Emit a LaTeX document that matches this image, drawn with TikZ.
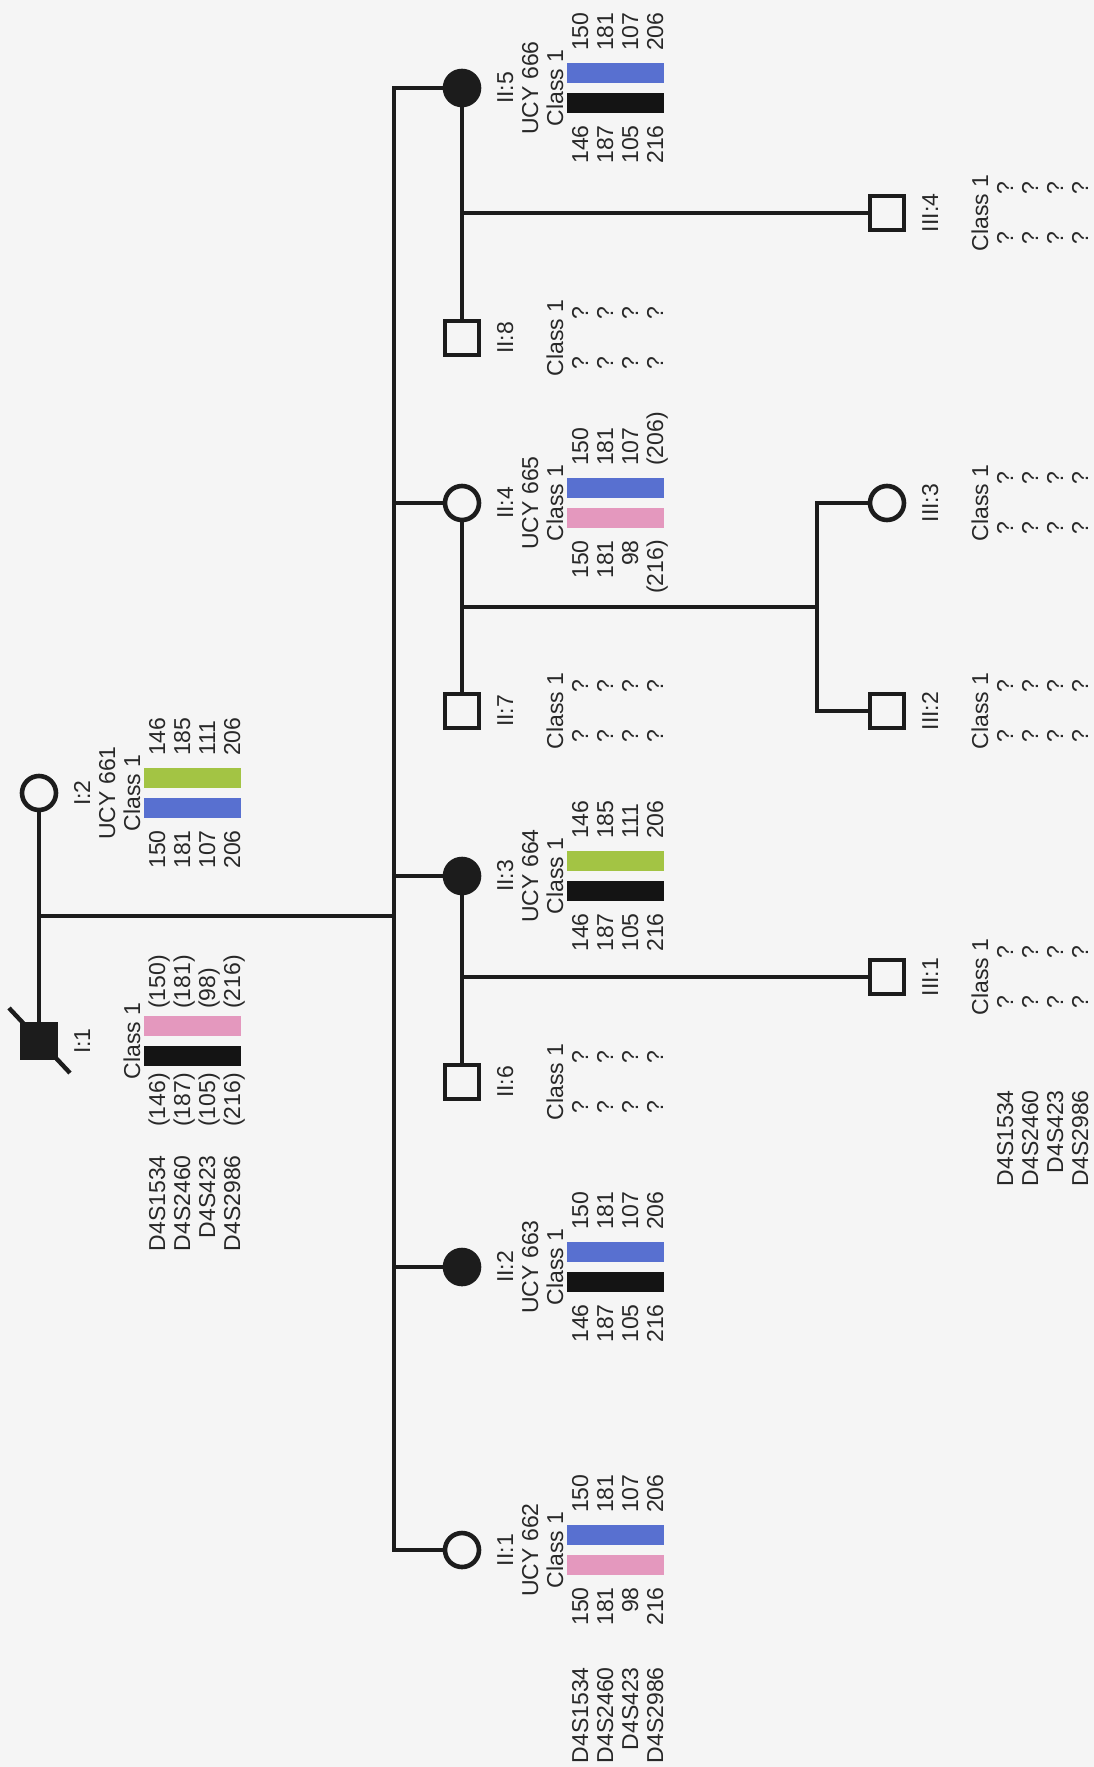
\documentclass[tikz,border=0pt]{standalone}
\usepackage{fontspec}
\setmainfont{Liberation Sans}
\definecolor{bg}{RGB}{245,245,245}
\definecolor{ink}{RGB}{28,28,28}
\definecolor{txtink}{RGB}{40,40,40}
\definecolor{hapblue}{RGB}{88,112,208}
\definecolor{happink}{RGB}{228,152,190}
\definecolor{hapgreen}{RGB}{163,196,68}
\definecolor{hapblack}{RGB}{20,20,20}
\tikzset{
  conn/.style={draw=ink, line width=3.2pt},
  sym/.style={draw=ink, line width=4.6pt, minimum size=34pt, inner sep=0pt},
  femsym/.style={sym, circle, fill=bg},
  affem/.style={sym, circle, fill=ink},
  malsym/.style={sym, rectangle, fill=bg},
  afmal/.style={sym, rectangle, fill=ink},
  txt/.style={rotate=90, inner sep=0pt, text=txtink, font=\fontsize{23}{25}\selectfont},
}
% id, sx, sy, label
\newcommand\pedlabel[4]{%
  \node[txt, anchor=base] (#1lab) at (#2+51,#3) {#4};
  \node[txt, anchor=base] (#1cls) at (#2+101,#3) {Class 1};
}
% id, sx, sy, ucy text
\newcommand\peducy[4]{%
  \node[txt, anchor=base] (#1ucy) at (#2+76,#3) {#4};
}
% id, sx, sy, leftlist, colour1, colour2, rightlist, gap
\newcommand\pedalleles[8]{%
  \fill[#5] (#2+105,#3+5) rectangle (#2+202,#3+25);
  \fill[#6] (#2+105,#3-5) rectangle (#2+202,#3-25);
  \foreach \v [count=\i] in {#4} {\node[txt, anchor=base east] (#1L\i) at (#2+101+25*\i,#3+#8) {\v};}
  \foreach \v [count=\i] in {#7} {\node[txt, anchor=base west] (#1R\i) at (#2+101+25*\i,#3-#8) {\v};}
}
% id, sx, sy
\newcommand\pedunknown[3]{%
  \foreach \i in {1,...,4} {
    \node[txt, anchor=base] (#1L\i) at (#2+101+25*\i,#3+25) {?};
    \node[txt, anchor=base] (#1R\i) at (#2+101+25*\i,#3-25) {?};
  }
}
% id, sx, yend
\newcommand\pedmarkers[3]{%
  \foreach \v [count=\i] in {D4S1534,D4S2460,D4S423,D4S2986} {\node[txt, anchor=base east] (#1M\i) at (#2+101+25*\i,#3) {\v};}
}
\begin{document}
\begin{tikzpicture}[x=1pt,y=-1pt]
\useasboundingbox (0,0) rectangle (1094,1767);
\fill[bg] (0,0) rectangle (1094,1767);
% symbols
\node[afmal] (I1) at (39,1041) {};
\node[femsym] (I2) at (39,793) {};
\node[femsym] (II1) at (462,1550) {};
\node[affem] (II2) at (462,1267) {};
\node[affem] (II3) at (462,876) {};
\node[femsym] (II4) at (462,503) {};
\node[affem] (II5) at (462,88) {};
\node[malsym] (II6) at (462,1082) {};
\node[malsym] (II7) at (462,711) {};
\node[malsym] (II8) at (462,338) {};
\node[malsym] (III1) at (887,977) {};
\node[malsym] (III2) at (887,711) {};
\node[femsym] (III3) at (887,503) {};
\node[malsym] (III4) at (887,213) {};
% connectors
\coordinate (sib) at (394,0);
\coordinate (mar) at (39,916);
\draw[conn] (I2.south) -- (I1.north);
\draw[conn] (mar) -- (mar -| sib);
\draw[conn] (II5.west) -- (II5.west -| sib) -- (II1.west -| sib) -- (II1.west);
\foreach \n in {II2,II3,II4} {\draw[conn] (\n.west) -- (\n.west -| sib);}
\draw[conn] (II3.south) -- (II6.north);
\draw[conn] (II3 |- III1) -- (III1.west);
\draw[conn] (II4.south) -- (II7.north);
\coordinate (b4) at (462,607);
\coordinate (f4) at (817,607);
\draw[conn] (b4) -- (f4);
\draw[conn] (III3.west) -- (III3.west -| f4) -- (III2.west -| f4) -- (III2.west);
\draw[conn] (II5.south) -- (II8.north);
\draw[conn] (II5 |- III4) -- (III4.west);
% deceased slash
\draw[draw=ink, line width=4.4pt] (I1.center) ++(-30,-33) -- ++(61,65);
% labels
\pedlabel{I1}{39}{1041}{I:1}
\pedalleles{I1}{39}{1041}{{(146)},{(187)},{(105)},{(216)}}{hapblack}{happink}{{(150)},{(181)},{(98)},{(216)}}{32}
\pedlabel{I2}{39}{793}{I:2}
\peducy{I2}{39}{793}{UCY 661}
\pedalleles{I2}{39}{793}{150,181,107,206}{hapblue}{hapgreen}{146,185,111,206}{37}
\pedmarkers{G1}{39}{1155}
\pedlabel{II1}{462}{1550}{II:1}
\peducy{II1}{462}{1550}{UCY 662}
\pedalleles{II1}{462}{1550}{150,181,98,216}{happink}{hapblue}{150,181,107,206}{37}
\pedlabel{II2}{462}{1267}{II:2}
\peducy{II2}{462}{1267}{UCY 663}
\pedalleles{II2}{462}{1267}{146,187,105,216}{hapblack}{hapblue}{150,181,107,206}{37}
\pedlabel{II3}{462}{876}{II:3}
\peducy{II3}{462}{876}{UCY 664}
\pedalleles{II3}{462}{876}{146,187,105,216}{hapblack}{hapgreen}{146,185,111,206}{37}
\pedlabel{II4}{462}{503}{II:4}
\peducy{II4}{462}{503}{UCY 665}
\pedalleles{II4}{462}{503}{150,181,98,{(216)}}{happink}{hapblue}{150,181,107,{(206)}}{37}
\pedlabel{II5}{462}{88}{II:5}
\peducy{II5}{462}{88}{UCY 666}
\pedalleles{II5}{462}{88}{146,187,105,216}{hapblack}{hapblue}{150,181,107,206}{37}
\pedlabel{II6}{462}{1082}{II:6}
\pedunknown{II6}{462}{1082}
\pedlabel{II7}{462}{711}{II:7}
\pedunknown{II7}{462}{711}
\pedlabel{II8}{462}{338}{II:8}
\pedunknown{II8}{462}{338}
\pedmarkers{G2}{462}{1667}
\pedlabel{III1}{887}{977}{III:1}
\pedunknown{III1}{887}{977}
\pedlabel{III2}{887}{711}{III:2}
\pedunknown{III2}{887}{711}
\pedlabel{III3}{887}{503}{III:3}
\pedunknown{III3}{887}{503}
\pedlabel{III4}{887}{213}{III:4}
\pedunknown{III4}{887}{213}
\pedmarkers{G3}{887}{1090}
\end{tikzpicture}
\end{document}
